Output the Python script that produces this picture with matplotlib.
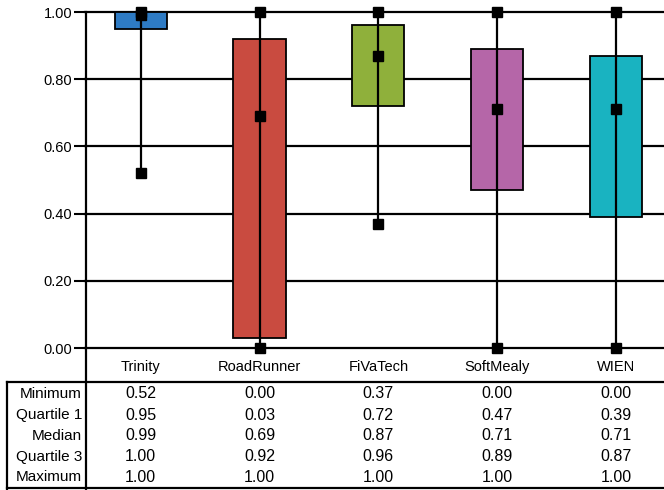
import matplotlib.pyplot as plt

# =============================================================================
# DATA
# =============================================================================
tools = ["Trinity", "RoadRunner", "FiVaTech", "SoftMealy", "WIEN"]
minimum = [0.52, 0.00, 0.37, 0.00, 0.00]
quartile1 = [0.95, 0.03, 0.72, 0.47, 0.39]
median = [0.99, 0.69, 0.87, 0.71, 0.71]
quartile3 = [1.00, 0.92, 0.96, 0.89, 0.87]
maximum = [1.00, 1.00, 1.00, 1.00, 1.00]
row_names = ["Minimum", "Quartile 1", "Median", "Quartile 3", "Maximum"]
yticks = [0.0, 0.2, 0.4, 0.6, 0.8, 1.0]

colors = ["#2e7bc4", "#c94b40", "#8fb03b", "#b566a8", "#19b3c1"]

plt.rcParams["font.family"] = ["Liberation Sans", "DejaVu Sans"]

W, H = 664, 490
fig = plt.figure(figsize=(W / 100, H / 100), dpi=100)

# pixel geometry (from the reference)
x_axis = 85
cat_w = 118.75
y_top, y_zero = 12, 348
left = x_axis / W
width = 5 * cat_w / W

ax = fig.add_axes([left, 1 - y_zero / H, width, (y_zero - y_top) / H])
ax.set_xlim(-0.5, 4.5)
ax.set_ylim(0, 1)
for s in ["top", "right", "bottom", "left"]:
    ax.spines[s].set_visible(False)
ax.set_xticks([])
ax.set_yticks(yticks)
ax.set_yticklabels([f"{v:.2f}" for v in yticks], fontsize=10.5)
ax.tick_params(axis="y", length=8, width=1.5, pad=1)
for v in yticks:
    ax.axhline(v, color="black", lw=1.6, zorder=1, clip_on=False)

bw = 0.44
for i in range(len(tools)):
    ax.bar(i - 0.03, quartile3[i] - quartile1[i], bottom=quartile1[i], width=bw,
           color=colors[i], edgecolor="black", lw=1.3, zorder=2)
    ax.plot([i - 0.03] * 2, [minimum[i], maximum[i]], color="black", lw=1.6,
            zorder=3, clip_on=False)
    ax.plot([i - 0.03] * 3, [minimum[i], median[i], maximum[i]], ls="none",
            marker="s", ms=7, color="black", zorder=4, clip_on=False)

# =============================================================================
# TABLE BELOW
# =============================================================================
tab = fig.add_axes([left, 0, width, (H - y_zero) / H])
tab.set_xlim(-0.5, 4.5)
tab.set_ylim(H, y_zero)  # pixel rows, inverted
tab.axis("off")

line_kw = dict(color="black", lw=1.6, clip_on=False)
x_left_tab = -0.5 - (x_axis - 7) / cat_w
tab.plot([x_left_tab, 4.5], [382, 382], **line_kw)
tab.plot([x_left_tab, 4.5], [H - 2, H - 2], **line_kw)
tab.plot([x_left_tab, x_left_tab], [382, H - 1], **line_kw)
# vertical axis line through plot and table
fig.add_artist(plt.Line2D([(x_axis + 0.5) / W] * 2, [0, 1 - y_top / H],
                          color="black", lw=1.6))

for i, name in enumerate(tools):
    tab.text(i - 0.03, 367, name, ha="center", va="center", fontsize=10.5)

table_rows = [minimum, quartile1, median, quartile3, maximum]
row_y = [394, 415.5, 436, 456.5, 477]
for r, (name, vals) in enumerate(zip(row_names, table_rows)):
    tab.text(-0.5 - 3 / cat_w, row_y[r], name, ha="right", va="center",
             fontsize=11, clip_on=False)
    for i, v in enumerate(vals):
        tab.text(i - 0.03, row_y[r], f"{v:.2f}", ha="center", va="center",
                 fontsize=11.5)

fig.savefig("out.png", dpi=100)
